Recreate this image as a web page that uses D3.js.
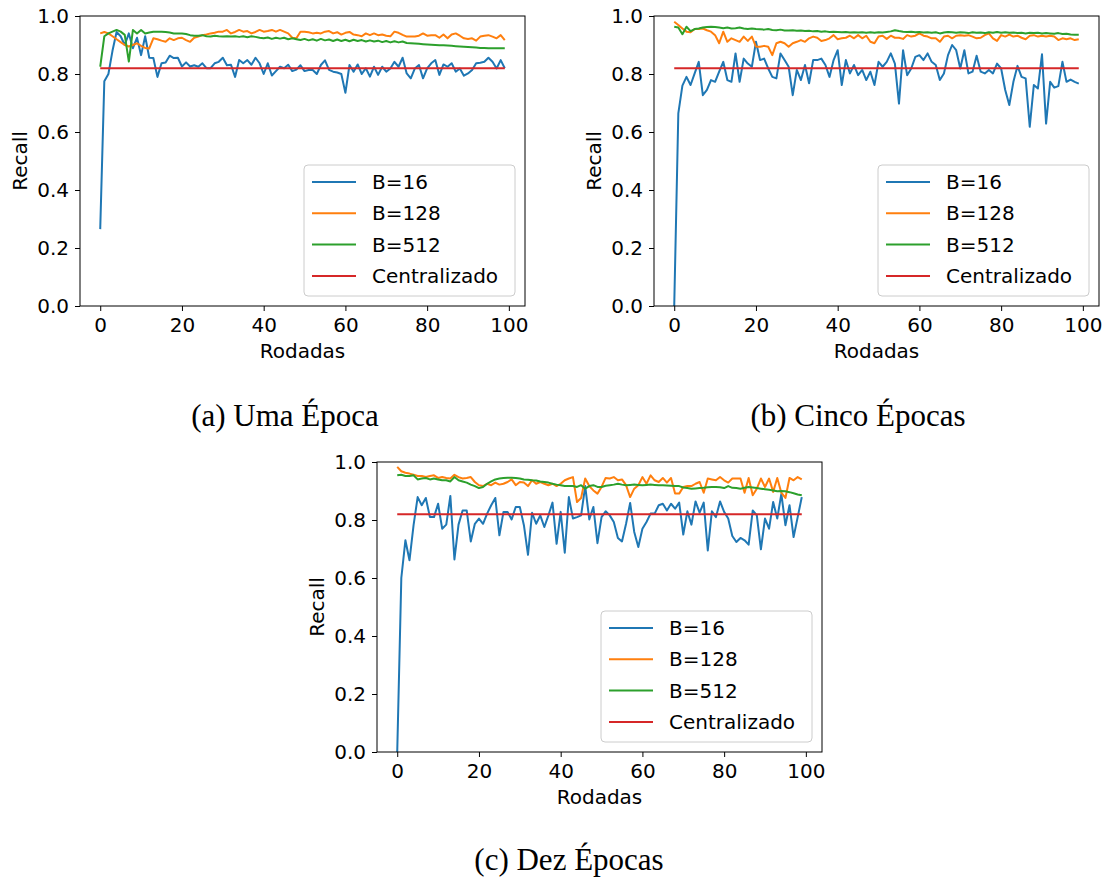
<!DOCTYPE html>
<html>
<head>
<meta charset="utf-8">
<script src="https://cdn.jsdelivr.net/npm/d3@7"></script>
<style>
  body { margin: 0; background: #fff; }
  svg text { font-family: "DejaVu Sans", sans-serif; fill: #000; }
  .caption { font-family: "Liberation Serif", serif !important; }
</style>
</head>
<body>
<svg id="chart" width="1108" height="881"></svg>
<script>
// Rodadas 0..99
const rounds = d3.range(100);
const seriesNames = ["B=16", "B=128", "B=512", "Centralizado"];
const colors = ["#1f77b4", "#ff7f0e", "#2ca02c", "#d62728"];
const centralized = 0.82;
const xTicks = [0, 20, 40, 60, 80, 100];
const yTicks = [0, 0.2, 0.4, 0.6, 0.8, 1.0];
const captions = ["(a) Uma Época", "(b) Cinco Épocas", "(c) Dez Épocas"];

// (a) Uma Época
const umaB16 = [0.265, 0.775, 0.80, 0.88, 0.945, 0.93, 0.90, 0.94, 0.889, 0.925,
  0.865, 0.93, 0.856, 0.855, 0.79, 0.837, 0.84, 0.863, 0.855, 0.856,
  0.826, 0.84, 0.826, 0.83, 0.825, 0.837, 0.82, 0.82, 0.837, 0.842,
  0.856, 0.83, 0.832, 0.79, 0.848, 0.837, 0.848, 0.832, 0.856, 0.837,
  0.80, 0.837, 0.795, 0.81, 0.825, 0.82, 0.832, 0.81, 0.815, 0.83,
  0.81, 0.814, 0.814, 0.80, 0.831, 0.847, 0.814, 0.808, 0.805, 0.80,
  0.735, 0.831, 0.808, 0.833, 0.80, 0.82, 0.791, 0.825, 0.797, 0.825,
  0.808, 0.819, 0.842, 0.825, 0.856, 0.802, 0.785, 0.819, 0.831, 0.785,
  0.819, 0.837, 0.848, 0.797, 0.833, 0.825, 0.837, 0.808, 0.819, 0.794,
  0.802, 0.814, 0.837, 0.839, 0.842, 0.856, 0.842, 0.819, 0.848, 0.82];
const umaB128 = [0.94, 0.945, 0.94, 0.93, 0.92, 0.91, 0.90, 0.895, 0.90, 0.906,
  0.897, 0.89, 0.888, 0.923, 0.92, 0.915, 0.911, 0.923, 0.917, 0.923,
  0.925, 0.917, 0.911, 0.925, 0.929, 0.934, 0.936, 0.94, 0.942, 0.946,
  0.946, 0.952, 0.94, 0.945, 0.952, 0.946, 0.948, 0.94, 0.945, 0.952,
  0.946, 0.948, 0.952, 0.946, 0.952, 0.946, 0.94, 0.925, 0.923, 0.946,
  0.946, 0.944, 0.94, 0.942, 0.94, 0.946, 0.948, 0.94, 0.944, 0.936,
  0.942, 0.945, 0.936, 0.934, 0.93, 0.94, 0.934, 0.94, 0.934, 0.936,
  0.932, 0.93, 0.946, 0.942, 0.935, 0.929, 0.929, 0.929, 0.932, 0.94,
  0.932, 0.934, 0.934, 0.925, 0.936, 0.923, 0.936, 0.94, 0.932, 0.923,
  0.921, 0.923, 0.915, 0.929, 0.932, 0.934, 0.929, 0.923, 0.934, 0.917];
const umaB512 = [0.825, 0.93, 0.94, 0.946, 0.952, 0.946, 0.935, 0.843, 0.952, 0.94,
  0.952, 0.94, 0.943, 0.946, 0.946, 0.946, 0.945, 0.943, 0.94, 0.94,
  0.94, 0.938, 0.934, 0.932, 0.932, 0.934, 0.93, 0.929, 0.932, 0.93,
  0.929, 0.93, 0.929, 0.93, 0.928, 0.93, 0.927, 0.93, 0.928, 0.925,
  0.923, 0.926, 0.921, 0.925, 0.922, 0.925, 0.92, 0.923, 0.92, 0.917,
  0.921, 0.916, 0.92, 0.915, 0.921, 0.916, 0.919, 0.914, 0.919, 0.914,
  0.918, 0.913, 0.918, 0.914, 0.917, 0.912, 0.916, 0.912, 0.915, 0.91,
  0.914, 0.909, 0.913, 0.909, 0.912, 0.907, 0.906, 0.905, 0.904, 0.903,
  0.902, 0.901, 0.90, 0.899, 0.899, 0.898, 0.897, 0.896, 0.895, 0.894,
  0.893, 0.892, 0.891, 0.89, 0.89, 0.889, 0.889, 0.889, 0.889, 0.889];

// (b) Cinco Épocas
const cincoB16 = [0.0, 0.664, 0.76, 0.79, 0.762, 0.802, 0.842, 0.727, 0.745, 0.779,
  0.773, 0.808, 0.842, 0.779, 0.773, 0.871, 0.773, 0.853, 0.836, 0.825,
  0.911, 0.848, 0.853, 0.819, 0.79, 0.785, 0.871, 0.848, 0.825, 0.727,
  0.814, 0.779, 0.831, 0.768, 0.848, 0.848, 0.853, 0.831, 0.79, 0.848,
  0.882, 0.762, 0.848, 0.802, 0.831, 0.796, 0.814, 0.779, 0.808, 0.762,
  0.842, 0.825, 0.842, 0.871, 0.836, 0.698, 0.882, 0.796, 0.819, 0.859,
  0.865, 0.848, 0.871, 0.842, 0.831, 0.779, 0.802, 0.865, 0.90, 0.882,
  0.819, 0.882, 0.802, 0.808, 0.863, 0.808, 0.802, 0.814, 0.802, 0.836,
  0.819, 0.745, 0.693, 0.773, 0.828, 0.79, 0.785, 0.618, 0.762, 0.75,
  0.868, 0.629, 0.773, 0.753, 0.758, 0.842, 0.773, 0.781, 0.773, 0.767];
const cincoB128 = [0.98, 0.969, 0.957, 0.946, 0.944, 0.955, 0.955, 0.957, 0.951, 0.946,
  0.934, 0.906, 0.946, 0.911, 0.923, 0.917, 0.911, 0.929, 0.914, 0.929,
  0.894, 0.894, 0.897, 0.894, 0.865, 0.906, 0.911, 0.906, 0.894, 0.906,
  0.911, 0.917, 0.911, 0.923, 0.929, 0.925, 0.914, 0.917, 0.923, 0.934,
  0.92, 0.923, 0.925, 0.932, 0.923, 0.934, 0.923, 0.932, 0.911, 0.906,
  0.929, 0.932, 0.921, 0.932, 0.925, 0.925, 0.921, 0.934, 0.929, 0.932,
  0.94, 0.932, 0.929, 0.923, 0.923, 0.911, 0.929, 0.932, 0.923, 0.932,
  0.934, 0.932, 0.934, 0.929, 0.923, 0.925, 0.934, 0.94, 0.923, 0.914,
  0.934, 0.929, 0.936, 0.929, 0.932, 0.925, 0.92, 0.932, 0.934, 0.929,
  0.932, 0.929, 0.932, 0.929, 0.917, 0.923, 0.92, 0.923, 0.917, 0.92];
const cincoB512 = [0.963, 0.96, 0.937, 0.963, 0.948, 0.955, 0.957, 0.96, 0.962, 0.963,
  0.962, 0.96, 0.958, 0.96, 0.957, 0.958, 0.96, 0.957, 0.955, 0.957,
  0.955, 0.954, 0.953, 0.955, 0.952, 0.951, 0.953, 0.95, 0.95, 0.951,
  0.949, 0.95, 0.948, 0.949, 0.947, 0.948, 0.946, 0.947, 0.945, 0.946,
  0.945, 0.944, 0.945, 0.943, 0.944, 0.943, 0.944, 0.942, 0.944, 0.942,
  0.944, 0.943, 0.945, 0.947, 0.951, 0.948, 0.946, 0.945, 0.946, 0.944,
  0.945, 0.943, 0.944, 0.942, 0.944, 0.94, 0.943, 0.945, 0.944, 0.942,
  0.944, 0.943, 0.941, 0.944, 0.942, 0.943, 0.941, 0.944, 0.942, 0.945,
  0.942, 0.944, 0.942, 0.943, 0.941, 0.942, 0.94, 0.942, 0.941, 0.942,
  0.94, 0.941, 0.94, 0.939, 0.941, 0.938, 0.939, 0.936, 0.935, 0.935];

// (c) Dez Épocas
const dezB16 = [0.0, 0.60, 0.73, 0.661, 0.782, 0.879, 0.851, 0.876, 0.81, 0.81,
  0.856, 0.77, 0.784, 0.883, 0.664, 0.784, 0.833, 0.833, 0.726, 0.787,
  0.805, 0.787, 0.822, 0.851, 0.876, 0.747, 0.828, 0.828, 0.802, 0.845,
  0.845, 0.782, 0.68, 0.825, 0.787, 0.816, 0.776, 0.816, 0.86, 0.718,
  0.828, 0.687, 0.879, 0.805, 0.81, 0.816, 0.917, 0.802, 0.845, 0.72,
  0.81, 0.83, 0.816, 0.793, 0.738, 0.726, 0.787, 0.859, 0.759, 0.707,
  0.77, 0.793, 0.822, 0.822, 0.851, 0.856, 0.833, 0.856, 0.839, 0.86,
  0.75, 0.83, 0.784, 0.864, 0.825, 0.86, 0.695, 0.83, 0.81, 0.864,
  0.828, 0.805, 0.745, 0.724, 0.738, 0.73, 0.715, 0.833, 0.816, 0.699,
  0.805, 0.77, 0.862, 0.805, 0.89, 0.782, 0.851, 0.741, 0.81, 0.879];
const dezB128 = [0.983, 0.968, 0.963, 0.96, 0.956, 0.952, 0.952, 0.948, 0.952, 0.954,
  0.945, 0.948, 0.945, 0.943, 0.956, 0.948, 0.943, 0.945, 0.948, 0.931,
  0.92, 0.917, 0.925, 0.92, 0.929, 0.922, 0.925, 0.931, 0.94, 0.92,
  0.931, 0.929, 0.917, 0.937, 0.925, 0.931, 0.925, 0.92, 0.925, 0.917,
  0.925, 0.937, 0.943, 0.948, 0.862, 0.876, 0.943, 0.917, 0.902, 0.891,
  0.914, 0.945, 0.943, 0.948, 0.937, 0.94, 0.92, 0.879, 0.908, 0.92,
  0.948, 0.925, 0.954, 0.937, 0.931, 0.945, 0.929, 0.945, 0.891, 0.891,
  0.914, 0.917, 0.917, 0.925, 0.931, 0.894, 0.943, 0.94, 0.937, 0.948,
  0.937, 0.929, 0.943, 0.943, 0.943, 0.894, 0.945, 0.885, 0.908, 0.943,
  0.914, 0.943, 0.897, 0.945, 0.894, 0.876, 0.945, 0.937, 0.948, 0.94];
const dezB512 = [0.954, 0.956, 0.952, 0.952, 0.954, 0.94, 0.943, 0.945, 0.94, 0.943,
  0.94, 0.937, 0.937, 0.933, 0.948, 0.937, 0.933, 0.929, 0.922, 0.917,
  0.91, 0.914, 0.925, 0.933, 0.94, 0.943, 0.945, 0.946, 0.946, 0.945,
  0.943, 0.94, 0.939, 0.937, 0.936, 0.933, 0.931, 0.929, 0.925, 0.922,
  0.92, 0.917, 0.917, 0.917, 0.914, 0.92, 0.908, 0.917, 0.92, 0.914,
  0.914, 0.918, 0.92, 0.922, 0.925, 0.922, 0.92, 0.921, 0.922, 0.921,
  0.92, 0.921, 0.922, 0.921, 0.92, 0.92, 0.919, 0.918, 0.917, 0.917,
  0.912, 0.91, 0.908, 0.909, 0.91, 0.911, 0.913, 0.914, 0.914, 0.913,
  0.91, 0.917, 0.911, 0.91, 0.908, 0.911, 0.914, 0.912, 0.91, 0.908,
  0.906, 0.904, 0.902, 0.899, 0.90, 0.899, 0.896, 0.892, 0.888, 0.885];

const panelSeries = [
  [umaB16, umaB128, umaB512],
  [cincoB16, cincoB128, cincoB512],
  [dezB16, dezB128, dezB512]
];

// plot boxes (px)
const boxes = [
  { left: 80, top: 16, width: 445, height: 290, capX: 285, capY: 426 },
  { left: 654, top: 16, width: 445, height: 290, capX: 858, capY: 426 },
  { left: 377, top: 462, width: 445, height: 290, capX: 569, capY: 870 }
];

const svg = d3.select("#chart");
const fontSize = 20;

function drawPanel(box, series, caption) {
  const g = svg.append("g").attr("transform", `translate(${box.left},${box.top})`);

  const x = d3.scaleLinear().domain([-4.95, 103.95]).range([0, box.width]);
  const y = d3.scaleLinear().domain([0, 1]).range([box.height, 0]);

  const xAxis = g.append("g")
    .attr("transform", `translate(0,${box.height})`)
    .call(d3.axisBottom(x).tickValues(xTicks).tickSize(5).tickPadding(7));
  const yAxis = g.append("g")
    .call(d3.axisLeft(y).tickValues(yTicks).tickFormat(d3.format(".1f")).tickSize(5).tickPadding(6));

  [xAxis, yAxis].forEach(a => {
    a.select(".domain").remove();
    a.selectAll("text").style("font-size", fontSize + "px").style("font-family", "DejaVu Sans");
    a.selectAll("line").attr("stroke", "#000").attr("stroke-width", 1);
  });

  const line = d3.line().x((d, i) => x(i)).y(d => y(d));

  const clip = "clip" + box.left;
  g.append("clipPath").attr("id", clip)
    .append("rect").attr("width", box.width).attr("height", box.height);

  const lines = g.append("g").attr("clip-path", `url(#${clip})`);
  series.forEach((s, k) => {
    lines.append("path")
      .datum(s)
      .attr("fill", "none")
      .attr("stroke", colors[k])
      .attr("stroke-width", 2)
      .attr("stroke-linejoin", "round")
      .attr("d", line);
  });
  lines.append("path")
    .datum(rounds.map(() => centralized))
    .attr("fill", "none")
    .attr("stroke", colors[3])
    .attr("stroke-width", 2)
    .attr("d", line);

  // frame
  g.append("rect")
    .attr("width", box.width).attr("height", box.height)
    .attr("fill", "none").attr("stroke", "#000").attr("stroke-width", 1);

  // legend
  const lw = 211, lh = 131;
  const lg = g.append("g")
    .attr("transform", `translate(${box.width - 10 - lw},${box.height - 10 - lh})`);
  lg.append("rect")
    .attr("width", lw).attr("height", lh).attr("rx", 4)
    .attr("fill", "#fff").attr("fill-opacity", 0.8)
    .attr("stroke", "#ccc").attr("stroke-width", 1);
  seriesNames.forEach((name, k) => {
    const ly = 17 + k * 31.3;
    lg.append("line")
      .attr("x1", 8).attr("x2", 52).attr("y1", ly).attr("y2", ly)
      .attr("stroke", colors[k]).attr("stroke-width", 2);
    lg.append("text")
      .attr("x", 68).attr("y", ly + 7)
      .style("font-size", fontSize + "px")
      .text(name);
  });

  // axis labels
  g.append("text")
    .attr("x", box.width / 2).attr("y", box.height + 52)
    .attr("text-anchor", "middle")
    .style("font-size", fontSize + "px")
    .text("Rodadas");
  g.append("text")
    .attr("transform", `translate(-53,${box.height / 2}) rotate(-90)`)
    .attr("text-anchor", "middle")
    .style("font-size", fontSize + "px")
    .text("Recall");

  svg.append("text")
    .attr("class", "caption")
    .attr("x", box.capX).attr("y", box.capY)
    .attr("text-anchor", "middle")
    .style("font-size", "31px")
    .text(caption);
}

boxes.forEach((b, i) => drawPanel(b, panelSeries[i], captions[i]));
</script>
</body>
</html>
